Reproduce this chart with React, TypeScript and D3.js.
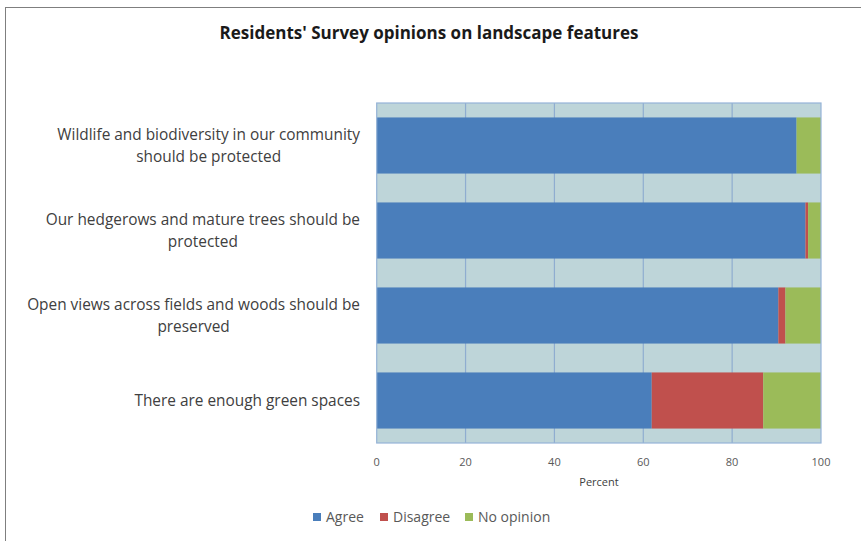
import React, { useEffect, useRef } from "react";
import * as d3 from "d3";

const categories = [
  "Wildlife and biodiversity in our community should be protected",
  "Our hedgerows and mature trees should be protected",
  "Open views across fields and woods should be preserved",
  "There are enough green spaces",
];
const categoryLines = [
  ["Wildlife and biodiversity in our community", "should be protected"],
  ["Our hedgerows and mature trees should be", "protected"],
  ["Open views across fields and woods should be", "preserved"],
  ["There are enough green spaces"],
];
const seriesNames = ["Agree", "Disagree", "No opinion"];
const agree = [94.5, 96.5, 90.4, 61.9];
const disagree = [0, 0.6, 1.6, 25.1];
const noOpinion = [5.5, 2.9, 8.0, 13.0];
const xTicks = [0, 20, 40, 60, 80, 100];
const colors = ["#4a7ebb", "#c0504d", "#9bbb59"];

const W = 861;
const H = 541;
const FONT = "'Open Sans', 'Noto Sans', sans-serif";

export default function App() {
  const ref = useRef<SVGSVGElement>(null);

  useEffect(() => {
    const svg = d3.select(ref.current);
    svg.selectAll("*").remove();

    const left = 376.7, right = 821, top = 103, bottom = 443;
    const x = d3.scaleLinear().domain([0, 100]).range([left, right]);
    const y = d3.scaleBand<string>().domain(categories).range([top, bottom]).paddingInner(0.34).paddingOuter(0.17);

    // frame
    svg.append("rect").attr("x", 5.5).attr("y", 7.5).attr("width", W).attr("height", H)
      .attr("fill", "white").attr("stroke", "#7f7f7f").attr("stroke-width", 1);

    // title
    svg.append("text").attr("x", 429).attr("y", 39).attr("text-anchor", "middle")
      .attr("font-family", FONT).attr("font-weight", "bold").attr("font-size", 17)
      .attr("fill", "#1a1a1a").text("Residents' Survey opinions on landscape features");

    // plot background
    svg.append("rect").attr("x", left).attr("y", top).attr("width", right - left).attr("height", bottom - top)
      .attr("fill", "#bed5d9");

    // gridlines
    svg.append("g").selectAll("line").data(xTicks.slice(1, -1)).join("line")
      .attr("x1", d => x(d)).attr("x2", d => x(d)).attr("y1", top).attr("y2", bottom)
      .attr("stroke", "#8fadd0").attr("stroke-width", 1.2);

    // stacked bars
    const rows = categories.map((c, i) => ({ cat: c, Agree: agree[i], Disagree: disagree[i], "No opinion": noOpinion[i] }));
    const stack = d3.stack<any>().keys(seriesNames)(rows);
    stack.forEach((s, si) => {
      svg.append("g").selectAll("rect").data(s).join("rect")
        .attr("x", d => x(d[0]))
        .attr("width", d => Math.max(0, x(d[1]) - x(d[0])))
        .attr("y", d => y(d.data.cat)!)
        .attr("height", y.bandwidth())
        .attr("fill", colors[si]);
    });

    // plot border
    svg.append("rect").attr("x", left).attr("y", top).attr("width", right - left).attr("height", bottom - top)
      .attr("fill", "none").attr("stroke", "#95b3d7").attr("stroke-width", 1.2);

    // x tick labels
    svg.append("g").selectAll("text").data(xTicks).join("text")
      .attr("x", d => x(d)).attr("y", 466).attr("text-anchor", "middle")
      .attr("font-family", FONT).attr("font-size", 11).attr("fill", "#595959")
      .text(d => String(d));

    svg.append("text").attr("x", 599).attr("y", 486).attr("text-anchor", "middle")
      .attr("font-family", FONT).attr("font-size", 11).attr("fill", "#404040").text("Percent");

    // category labels (block right-aligned, lines centred)
    categories.forEach((c, i) => {
      const lines = categoryLines[i];
      const g = svg.append("g");
      const texts = lines.map(l => g.append("text").attr("font-family", FONT).attr("font-size", 15.4)
        .attr("fill", "#404040").attr("text-anchor", "middle").text(l));
      const widths = texts.map(t => (t.node() as SVGTextElement).getComputedTextLength());
      const maxW = Math.max(...widths);
      const cx = 360 - maxW / 2;
      const cy = y(c)! + y.bandwidth() / 2;
      const lh = 22;
      const y0 = cy - ((lines.length - 1) * lh) / 2 + 5;
      texts.forEach((t, j) => t.attr("x", cx).attr("y", y0 + j * lh));
    });

    // legend
    const legendX = [313, 380, 465];
    seriesNames.forEach((s, i) => {
      svg.append("rect").attr("x", legendX[i]).attr("y", 513).attr("width", 8).attr("height", 8).attr("fill", colors[i]);
      svg.append("text").attr("x", legendX[i] + 13).attr("y", 522).attr("font-family", FONT).attr("font-size", 14)
        .attr("fill", "#595959").text(s);
    });
  }, []);

  return (
    <svg ref={ref} width={W} height={H} style={{ position: "absolute", left: 0, top: 0, background: "white" }} />
  );
}
